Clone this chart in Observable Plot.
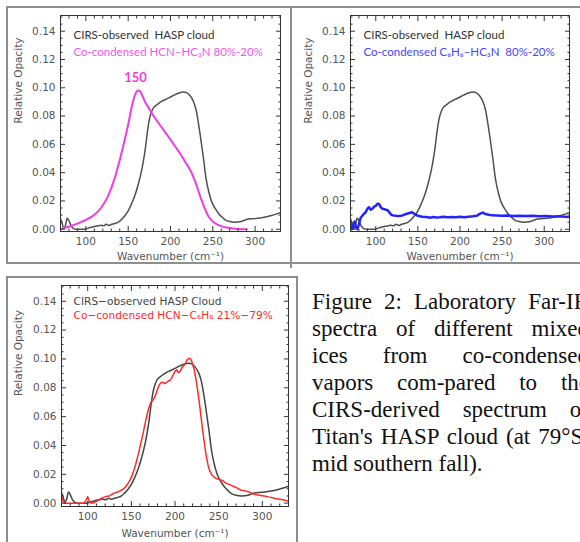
<!DOCTYPE html>
<html><head><meta charset="utf-8">
<script src="https://cdn.jsdelivr.net/npm/d3@7"></script>
<script src="https://cdn.jsdelivr.net/npm/@observablehq/plot@0.6"></script>
<style>
html,body{margin:0;padding:0;background:#fff;width:580px;height:542px;overflow:hidden;position:relative;}
.panel{position:absolute;}
.panel svg{background:transparent;}
.ln{position:absolute;background:#8e8e8e;z-index:5;}
.cap{position:absolute;left:312px;top:288px;width:277px;font-family:"Liberation Serif","Times New Roman",serif;font-size:23px;line-height:27px;color:#111;}
.cap div{text-align:justify;text-align-last:justify;}
.cap div.last{text-align-last:left;}
</style></head><body>
<div id="p1" class="panel" style="left:0;top:0"></div>
<div id="p2" class="panel" style="left:290px;top:0"></div>
<div id="p3" class="panel" style="left:0;top:270px"></div>

<div class="ln" style="left:6px;top:6px;width:574px;height:2px"></div>
<div class="ln" style="left:6px;top:6px;width:2px;height:257px"></div>
<div class="ln" style="left:6px;top:262px;width:286px;height:2px"></div>
<div class="ln" style="left:290px;top:6px;width:2px;height:262px"></div>
<div class="ln" style="left:290px;top:262px;width:290px;height:2px"></div>
<div class="ln" style="left:6px;top:276px;width:292px;height:2px"></div>
<div class="ln" style="left:6px;top:276px;width:2px;height:270px"></div>
<div class="ln" style="left:296px;top:276px;width:2px;height:270px"></div>

<div class="cap" id="cap"></div>

<script>
// ---------- DATA ----------
const xTickLabels = [100, 150, 200, 250, 300];
const yTickLabels = [0, 0.02, 0.04, 0.06, 0.08, 0.10, 0.12, 0.14];
const xMinorTicks = [70, 80, 90, 110, 120, 130, 140, 160, 170, 180, 190, 210, 220, 230, 240, 260, 270, 280, 290, 310, 320, 330];
const yMinorTicks = [0.005, 0.01, 0.015, 0.025, 0.03, 0.035, 0.045, 0.05, 0.055, 0.065, 0.07, 0.075, 0.085, 0.09, 0.095, 0.105, 0.11, 0.115, 0.125, 0.13, 0.135, 0.145, 0.15];

// CIRS-observed HASP cloud
const haspWn  = [70, 72, 74, 76, 78, 80, 83, 86, 90, 95, 100, 105, 110, 115, 118, 121, 124, 127, 130, 134, 138, 142, 146, 150, 154, 158, 162, 166, 170, 173, 176, 180, 185, 190, 195, 200, 205, 210, 215, 219, 223, 227, 230, 233, 236, 239, 242, 245, 249, 253, 257, 261, 265, 270, 276, 282, 288, 292, 300, 308, 315, 320, 325, 330];
const haspVal = [0.0075, 0.004, 0.0005, 0.003, 0.0078, 0.006, 0.002, 0.0003, 0.0, 0.0, 0.0002, 0.0012, 0.002, 0.0025, 0.0028, 0.0024, 0.0035, 0.0027, 0.0033, 0.004, 0.0048, 0.0068, 0.0095, 0.013, 0.018, 0.024, 0.032, 0.042, 0.056, 0.07, 0.08, 0.086, 0.0885, 0.0905, 0.092, 0.0935, 0.095, 0.0963, 0.097, 0.0966, 0.0945, 0.0905, 0.085, 0.075, 0.063, 0.05, 0.036, 0.027, 0.019, 0.0145, 0.011, 0.0085, 0.0065, 0.0055, 0.005, 0.0053, 0.0065, 0.0072, 0.0075, 0.0082, 0.009, 0.0098, 0.0107, 0.0118];

// Co-condensed HCN-HC3N 80%-20%
const hcnHc3nWn  = [70, 75, 80, 86, 92, 98, 104, 110, 115, 120, 125, 130, 135, 140, 145, 150, 154, 158, 161, 164, 167, 170, 175, 180, 186, 192, 198, 205, 212, 218, 224, 229, 233, 237, 241, 245, 250, 255, 260, 268, 276, 290];
const hcnHc3nVal = [0.0, 0.001, 0.0018, 0.003, 0.0045, 0.006, 0.0078, 0.0103, 0.013, 0.017, 0.022, 0.029, 0.038, 0.049, 0.061, 0.074, 0.086, 0.095, 0.098, 0.0975, 0.094, 0.09, 0.085, 0.08, 0.075, 0.07, 0.065, 0.059, 0.053, 0.047, 0.041, 0.034, 0.027, 0.02, 0.014, 0.009, 0.0055, 0.0035, 0.0022, 0.001, 0.0004, 0.0];

// Co-condensed C6H6-HC3N 80%-20%
const c6h6Hc3nWn  = [70, 71.5, 73, 75, 76.5, 78, 80, 82, 84, 86, 88, 90, 92, 94, 96, 98, 100, 102, 104, 106, 108, 110, 112, 114, 116, 118, 120, 124, 128, 132, 136, 140, 143, 146, 150, 155, 160, 165, 168, 172, 176, 180, 185, 190, 195, 200, 205, 210, 215, 220, 224, 227, 230, 234, 238, 244, 250, 256, 262, 270, 278, 286, 294, 302, 310, 318, 325, 330];
const c6h6Hc3nVal = [0.004, 0.0, 0.002, 0.0055, 0.001, 0.0, 0.0035, 0.008, 0.0095, 0.011, 0.012, 0.0145, 0.0155, 0.0138, 0.0145, 0.016, 0.0165, 0.018, 0.0178, 0.0155, 0.0145, 0.0142, 0.0138, 0.0135, 0.012, 0.0105, 0.0098, 0.0095, 0.0093, 0.0098, 0.0108, 0.0115, 0.012, 0.0108, 0.0095, 0.0088, 0.0086, 0.0082, 0.0087, 0.0083, 0.0085, 0.0088, 0.0084, 0.0087, 0.0085, 0.0088, 0.0084, 0.0089, 0.0092, 0.0096, 0.011, 0.0118, 0.0108, 0.0102, 0.0098, 0.0097, 0.0095, 0.0097, 0.0094, 0.0096, 0.0094, 0.0095, 0.0092, 0.0093, 0.009, 0.0091, 0.0088, 0.0087];

// Co-condensed HCN-C6H6 21%-79%
const hcnC6h6Wn  = [70, 72, 74, 80, 90, 96, 98, 100, 102, 104, 108, 112, 116, 119, 122, 125, 128, 131, 134, 137, 140, 143, 146, 149, 152, 155, 158, 161, 164, 167, 170, 172, 174, 176, 178, 180, 182, 184, 186, 188, 190, 192, 194, 196, 198, 200, 202, 204, 206, 208, 210, 212, 214, 216, 218, 220, 222, 224, 226, 228, 230, 232, 234, 236, 238, 240, 243, 246, 249, 252, 255, 258, 261, 264, 267, 270, 273, 276, 279, 282, 285, 288, 291, 294, 297, 300, 304, 308, 312, 316, 320, 325, 330];
const hcnC6h6Val = [0.0055, 0.001, 0.0, 0.0, 0.0, 0.0, 0.002, 0.0045, 0.001, 0.0, 0.0005, 0.002, 0.0035, 0.0042, 0.0048, 0.005, 0.0062, 0.0072, 0.0075, 0.0085, 0.0095, 0.011, 0.0135, 0.0165, 0.021, 0.027, 0.034, 0.042, 0.05, 0.059, 0.066, 0.0695, 0.071, 0.0725, 0.0755, 0.079, 0.082, 0.0835, 0.0838, 0.083, 0.0835, 0.0845, 0.085, 0.0865, 0.089, 0.0915, 0.0925, 0.0905, 0.0915, 0.094, 0.0955, 0.097, 0.0995, 0.1005, 0.1, 0.097, 0.0925, 0.086, 0.078, 0.069, 0.059, 0.049, 0.04, 0.032, 0.026, 0.022, 0.019, 0.0175, 0.0168, 0.0162, 0.0155, 0.014, 0.0132, 0.0125, 0.0115, 0.011, 0.0098, 0.009, 0.0088, 0.0082, 0.0078, 0.007, 0.0062, 0.0058, 0.0055, 0.0052, 0.0048, 0.0042, 0.0038, 0.003, 0.0027, 0.0022, 0.0012];

const peakLabel = "150";
const legend1 = ["CIRS-observed  HASP cloud", "Co-condensed HCN\u2013HC\u2083N 80%-20%"];
const legend2 = ["CIRS-observed  HASP cloud", "Co-condensed C\u2086H\u2086\u2013HC\u2083N  80%-20%"];
const legend3 = ["CIRS\u2212observed HASP Cloud", "Co\u2212condensed HCN\u2212C\u2086H\u2086 21%\u221279%"];
const xLabel = "Wavenumber (cm\u207B\u00B9)";
const yLabel = "Relative Opacity";
const captionLines = ["Figure 2: Laboratory Far-IR", "spectra of different mixed", "ices from co-condensed", "vapors com-pared to the", "CIRS-derived spectrum of", "Titan's HASP cloud (at 79\u00B0S,", "mid southern fall)."];

// ---------- BUILD ----------
const zip = (w, v) => w.map((x, i) => ({x, y: v[i]}));
const hasp = zip(haspWn, haspVal);

const FRAME = "#333";
const TICKC = "#555";

function axes(fs, tickFont) {
  const common = {stroke: FRAME, label: null, tickFormat: () => ""};
  return [
    Plot.axisX({...common, ticks: xTickLabels, anchor: "bottom", tickSize: 5, dy: -5}),
    Plot.axisX({...common, ticks: xTickLabels, anchor: "top", tickSize: 5, dy: 5}),
    Plot.axisX({...common, ticks: xMinorTicks, anchor: "bottom", tickSize: 2.5, dy: -2.5}),
    Plot.axisX({...common, ticks: xMinorTicks, anchor: "top", tickSize: 2.5, dy: 2.5}),
    Plot.axisY({...common, ticks: yTickLabels, anchor: "left", tickSize: 5, dx: 5}),
    Plot.axisY({...common, ticks: yTickLabels, anchor: "right", tickSize: 5, dx: -5}),
    Plot.axisY({...common, ticks: yMinorTicks, anchor: "left", tickSize: 2.5, dx: 2.5}),
    Plot.axisY({...common, ticks: yMinorTicks, anchor: "right", tickSize: 2.5, dx: -2.5}),
    Plot.axisX({ticks: xTickLabels, anchor: "bottom", tickSize: 0, tickPadding: 6, label: null, fill: TICKC, fontSize: fs, fontFamily: tickFont}),
    Plot.axisY({ticks: yTickLabels, anchor: "left", tickSize: 0, tickPadding: 5, label: null, fill: TICKC, fontSize: fs, fontFamily: tickFont, tickFormat: d => d.toFixed(2)}),
    Plot.frame({stroke: FRAME, strokeWidth: 1})
  ];
}

function panel(o) {
  const p = Plot.plot({
    width: o.width, height: o.height,
    marginLeft: o.ml, marginRight: o.mr, marginTop: o.mt, marginBottom: o.mb,
    x: {domain: [70, 330]},
    y: {domain: o.ydom},
    style: {background: "transparent", fontFamily: o.tickFont, overflow: "visible"},
    marks: [
      ...o.lines,
      ...axes(o.tickFs, o.tickFont),
      Plot.text([xLabel], {frameAnchor: "bottom", lineAnchor: "middle", dy: o.xlabDy, fill: TICKC, fontSize: o.labFs, fontFamily: o.tickFont}),
      Plot.text([yLabel], {frameAnchor: "left", lineAnchor: "middle", dx: o.ylabDx, rotate: -90, fill: TICKC, fontSize: o.labFs, fontFamily: o.tickFont}),
      Plot.text([o.legend[0]], {frameAnchor: "top-left", lineAnchor: "middle", dx: o.legDx, dy: o.legDy[0], textAnchor: "start", fill: o.legColors[0], fontSize: o.legFs, fontFamily: o.legFont}),
      Plot.text([o.legend[1]], {frameAnchor: "top-left", lineAnchor: "middle", dx: o.legDx, dy: o.legDy[1], textAnchor: "start", fill: o.legColors[1], fontSize: o.legFs, fontFamily: o.legFont}),
      ...(o.extra || [])
    ]
  });
  document.getElementById(o.id).appendChild(p);
}

const magenta = "#f03ce2";
const hcnHc3n = zip(hcnHc3nWn, hcnHc3nVal);
const peak = hcnHc3n.reduce((a, b) => (b.y > a.y ? b : a));

panel({
  id: "p1", width: 290, height: 265, ml: 60, mr: 10, mt: 15, mb: 34,
  ydom: [-0.0016, 0.1511], tickFs: 10.5, labFs: 10.5, tickFont: "DejaVu Sans",
  xlabDy: 25.5, ylabDx: -42,
  legend: legend1, legColors: ["#333", "#f055ee"], legFs: 11.5, legFont: "Lato", legDx: 13, legDy: [20, 37],
  lines: [
    Plot.line(hasp, {x: "x", y: "y", stroke: "#505050", strokeWidth: 1.5, curve: "catmull-rom", clip: true}),
    Plot.line(hcnHc3n, {x: "x", y: "y", stroke: magenta, strokeWidth: 2, curve: "catmull-rom", clip: true})
  ],
  extra: [
    Plot.text([peak], {x: "x", y: "y", text: () => peakLabel, dy: -13, dx: -2, fill: magenta, fontWeight: "bold", fontSize: 13, fontFamily: "Lato"})
  ]
});

panel({
  id: "p2", width: 290, height: 265, ml: 60, mr: 11, mt: 15, mb: 34,
  ydom: [-0.0016, 0.1511], tickFs: 10.5, labFs: 10.5, tickFont: "DejaVu Sans",
  xlabDy: 25.5, ylabDx: -42,
  legend: legend2, legColors: ["#333", "#4646ff"], legFs: 11.5, legFont: "Lato", legDx: 13, legDy: [20, 37],
  lines: [
    Plot.line(hasp, {x: "x", y: "y", stroke: "#505050", strokeWidth: 1.5, curve: "catmull-rom", clip: true}),
    Plot.line(zip(c6h6Hc3nWn, c6h6Hc3nVal), {x: "x", y: "y", stroke: "#2323ff", strokeWidth: 2.5, clip: true})
  ]
});

panel({
  id: "p3", width: 300, height: 272, ml: 61, mr: 12, mt: 15, mb: 36,
  ydom: [-0.0023, 0.1509], tickFs: 10.5, labFs: 10.5, tickFont: "DejaVu Sans",
  xlabDy: 27, ylabDx: -43,
  legend: legend3, legColors: ["#444", "#ff2a2a"], legFs: 10.6, legFont: "DejaVu Sans", legDx: 12, legDy: [16, 30],
  lines: [
    Plot.line(hasp, {x: "x", y: "y", stroke: "#444", strokeWidth: 1.5, curve: "catmull-rom", clip: true}),
    Plot.line(zip(hcnC6h6Wn, hcnC6h6Val), {x: "x", y: "y", stroke: "#ff2a2a", strokeWidth: 1.5, clip: true})
  ]
});

const cap = document.getElementById("cap");
captionLines.forEach((t, i) => {
  const d = document.createElement("div");
  d.textContent = t;
  if (i === captionLines.length - 1) d.className = "last";
  cap.appendChild(d);
});
</script>
</body></html>
